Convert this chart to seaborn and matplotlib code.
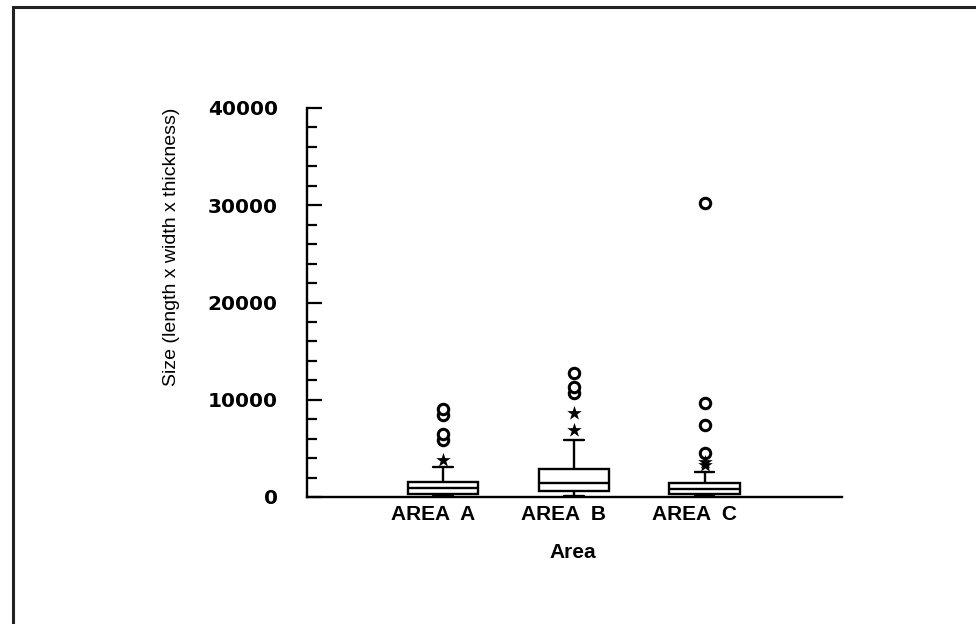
import matplotlib
matplotlib.use("Agg")
import matplotlib.pyplot as plt
from matplotlib.transforms import ScaledTranslation
from matplotlib.patches import Rectangle
import seaborn as sns
import pandas as pd

# ---- data ----
areas = ["AREA  A", "AREA  B", "AREA  C"]
whisker_low = [60, 100, 60]
q1 = [310, 620, 310]
median = [925, 1440, 820]
q3 = [1540, 2880, 1440]
whisker_high = [3080, 5860, 2570]

star_area = ["AREA  A", "AREA  B", "AREA  B", "AREA  C", "AREA  C"]
star_size = [3800, 6890, 8640, 3290, 3600]

circle_area = ["AREA  A", "AREA  A", "AREA  A", "AREA  A",
               "AREA  B", "AREA  B", "AREA  B",
               "AREA  C", "AREA  C", "AREA  C", "AREA  C"]
circle_size = [5860, 6480, 8430, 9050,
               10690, 11310, 12700,
               4520, 7400, 9670, 30230]

ytick_values = [0, 10000, 20000, 30000, 40000]
ytick_labels = ["0", "10000", "20000", "30000", "40000"]
x_title = "Area"
y_title = "Size (length x width x thickness)"

# five-number summary per area -> observations for the box plot
rows = []
for i, a in enumerate(areas):
    for v in (whisker_low[i], q1[i], median[i], q3[i], whisker_high[i]):
        rows.append({"area": a, "size": v})
df = pd.DataFrame(rows)

sns.set_style("ticks")
plt.rcParams["font.family"] = ["Liberation Sans", "DejaVu Sans"]
plt.rcParams["text.color"] = "black"
plt.rcParams["axes.labelcolor"] = "black"
plt.rcParams["xtick.color"] = "black"
plt.rcParams["ytick.color"] = "black"

fig = plt.figure(figsize=(9.76, 6.24), dpi=100)
ax = fig.add_axes([307 / 976, 1 - 497 / 624, (842 - 307) / 976, (497 - 108) / 624])

sns.boxplot(data=df, x="area", y="size", order=areas, ax=ax,
            color="white", linecolor="black", linewidth=1.7, width=0.54,
            showfliers=False, whis=10, capwidths=0.15,
            medianprops=dict(color="black", linewidth=1.7))

sns.stripplot(x=circle_area, y=circle_size, order=areas, ax=ax, jitter=False,
              marker="o", size=7.5, color="white", edgecolor="black",
              linewidth=2.2, zorder=5)
sns.stripplot(x=star_area, y=star_size, order=areas, ax=ax, jitter=False,
              marker="*", size=11, color="black", linewidth=0, zorder=5)

ax.set_xlim(-1.04, 3.05)
ax.set_ylim(0, 40000)

ax.set_yticks(ytick_values)
ax.set_yticklabels(ytick_labels, fontfamily="DejaVu Sans", fontweight="bold",
                   fontsize=14.5, color="black")
ax.yaxis.set_minor_locator(matplotlib.ticker.MultipleLocator(2000))
ax.tick_params(axis="y", which="major", direction="in", length=11, width=1.6,
               pad=21, color="black")
ax.tick_params(axis="y", which="minor", direction="in", length=7, width=1.6,
               color="black")

ax.set_xticks(range(len(areas)))
ax.set_xticklabels(areas, fontweight="bold", fontsize=15, color="black")
ax.tick_params(axis="x", length=0, pad=6)
for lab in ax.get_xticklabels():
    lab.set_transform(lab.get_transform() + ScaledTranslation(-0.10, 0, fig.dpi_scale_trans))

for s in ("top", "right"):
    ax.spines[s].set_visible(False)
for s in ("left", "bottom"):
    ax.spines[s].set_linewidth(1.7)
    ax.spines[s].set_color("black")

ax.set_xlabel(x_title, fontsize=15, fontweight="bold",
              fontfamily=["Liberation Sans Narrow", "Liberation Sans"], color="black")
ax.xaxis.set_label_coords((573 - 307) / 535, -(553 - 497) / 389)
ax.xaxis.label.set_va("center")
ax.set_ylabel(y_title, fontsize=14, color="black")
ax.yaxis.set_label_coords((171 - 307) / 535, (497 - 247) / 389)
ax.yaxis.label.set_va("center")

# scanned-frame border
fig.add_artist(Rectangle((13 / 976, -0.1), 1.2, 1 - 7 / 624 + 0.1,
                         transform=fig.transFigure, fill=False,
                         edgecolor="#222222", linewidth=2.2))

fig.savefig("out.png", dpi=100)
